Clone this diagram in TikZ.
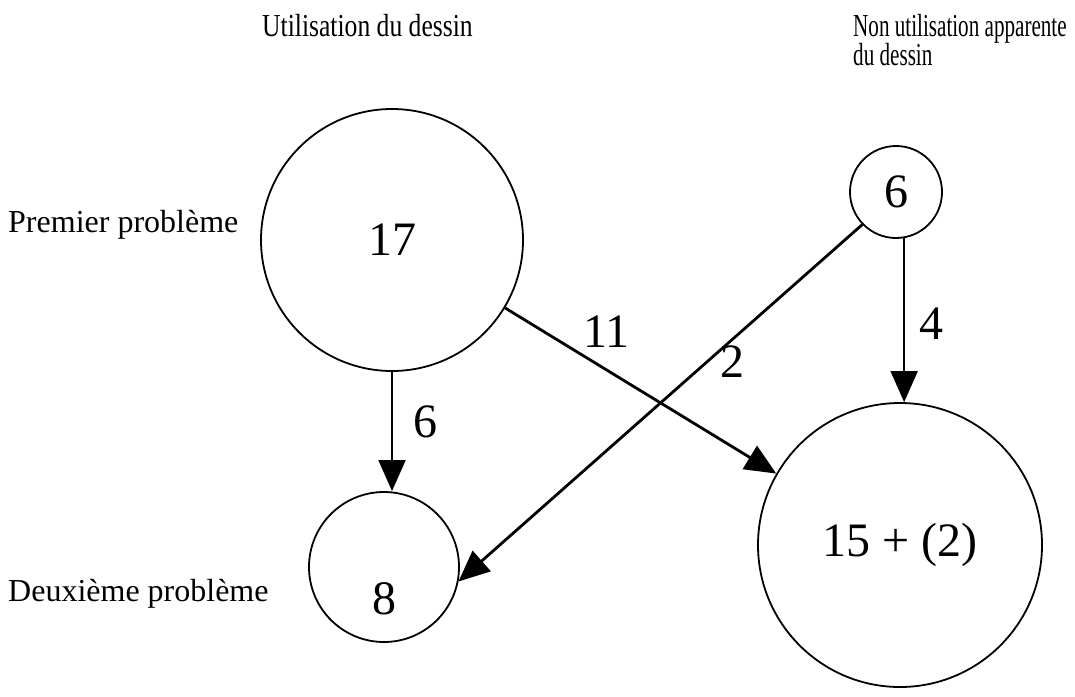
\documentclass[tikz,border=0pt]{standalone}
\usepackage{graphicx}
\usepackage{fontspec}
\setmainfont{Liberation Serif}
\usetikzlibrary{arrows.meta,positioning}
\newcommand{\etroit}[2]{\scalebox{#1}[1]{#2}}
\begin{document}
\begin{tikzpicture}[x=1pt,y=-1pt,>={Triangle[length=31pt,width=27pt]},
 etat/.style={draw,circle,line width=1.8pt,inner sep=0pt,font=\fontsize{48}{54}\selectfont},
 titre/.style={anchor=base west,inner sep=0pt,font=\fontsize{32}{36}\selectfont},
 nombre/.style={inner sep=0pt,font=\fontsize{48}{54}\selectfont},
 fleche/.style={->,line width=2.8pt}]
\useasboundingbox (0,0) rectangle (1075,696);
% titres
\node[titre] (tdessin) at (262,36) {\etroit{.80}{Utilisation du dessin}};
\node[titre] (tnon) at (853,36) {\etroit{.66}{Non utilisation apparente}};
\node[titre] (tnon2) at (853,65) {\etroit{.66}{du dessin}};
\node[titre] (tprem) at (8,232) {Premier problème};
\node[titre] (tdeux) at (8,601) {Deuxième problème};
% cercles
\node[etat,minimum size=262pt] (d17) at (392,240) {17};
\node[etat,minimum size=92pt] (n6) at (896,192) {6};
\node[etat,minimum size=150pt,label={[nombre,yshift=-32pt]center:8}] (d8) at (384,567) {};
\node[etat,minimum size=284pt] (n15) at (900,545) {15 + (2)};
% fleches
\draw[fleche,line width=2pt] (d17.south) -- node[nombre,pos=.42,right=20pt] (l6) {6} (d17.south |- d8.north);
\draw[fleche,line width=2pt] (n6.-80) -- node[nombre,pos=.52,right=14pt] (l4) {4} (n6.-80 |- n15.north);
\draw[fleche] (d17.-31) -- node[nombre,pos=.33,above=14pt,xshift=12pt] (l11) {11} (n15.150);
\draw[fleche] (n6.224) -- node[nombre,pos=.33,below right=2pt and -10pt] (l2) {2} (d8.-11);
\end{tikzpicture}
\end{document}
